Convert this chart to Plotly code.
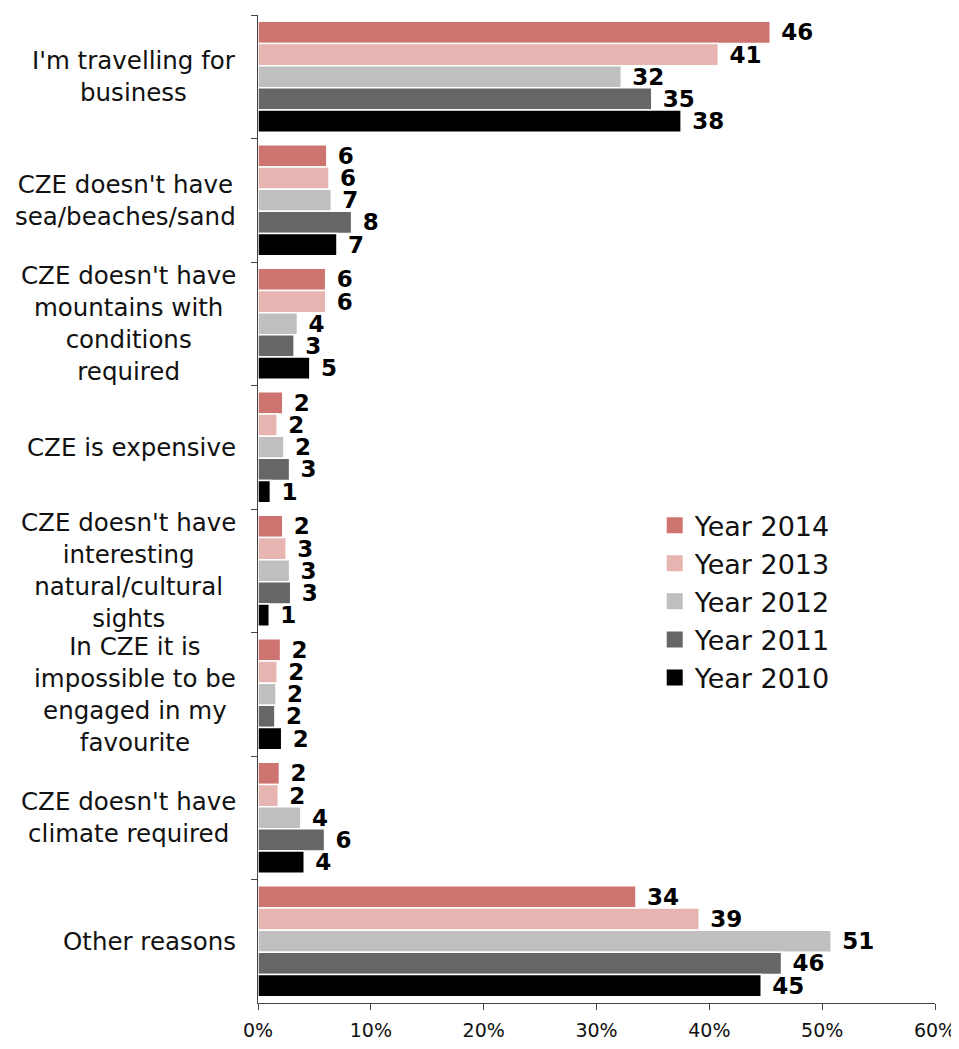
import plotly.graph_objects as go

categories = [
    "I'm travelling for<br>business",
    "CZE doesn't have<br>sea/beaches/sand",
    "CZE doesn't have<br>mountains with<br>conditions<br>required",
    "CZE is expensive",
    "CZE doesn't have<br>interesting<br>natural/cultural<br>sights",
    "In CZE it is<br>impossible to be<br>engaged in my<br>favourite",
    "CZE doesn't have<br>climate required",
    "Other reasons",
]

years = ["Year 2014", "Year 2013", "Year 2012", "Year 2011", "Year 2010"]

v2014 = [45.4, 6.1, 6.0, 2.2, 2.2, 2.0, 1.9, 33.5]
v2013 = [40.8, 6.3, 6.0, 1.7, 2.5, 1.7, 1.8, 39.1]
v2012 = [32.2, 6.5, 3.5, 2.3, 2.8, 1.6, 3.8, 50.8]
v2011 = [34.9, 8.3, 3.2, 2.8, 2.9, 1.5, 5.9, 46.4]
v2010 = [37.5, 7.0, 4.6, 1.1, 1.0, 2.1, 4.1, 44.6]

l2014 = ["46", "6", "6", "2", "2", "2", "2", "34"]
l2013 = ["41", "6", "6", "2", "3", "2", "2", "39"]
l2012 = ["32", "7", "4", "2", "3", "2", "4", "51"]
l2011 = ["35", "8", "3", "3", "3", "2", "6", "46"]
l2010 = ["38", "7", "5", "1", "1", "2", "4", "45"]

x_ticks = [0, 10, 20, 30, 40, 50, 60]
x_tick_text = ["0%", "10%", "20%", "30%", "40%", "50%", "60%"]

colors = ["#CD7370", "#E6B5B1", "#BFBFBF", "#666666", "#000000"]

series = [v2014, v2013, v2012, v2011, v2010]
labels = [l2014, l2013, l2012, l2011, l2010]

fig = go.Figure()
for name, vals, labs, col in zip(years, series, labels, colors):
    fig.add_trace(go.Bar(
        y=categories, x=vals, orientation="h", name=name, showlegend=False,
        marker=dict(color=col, line=dict(color="white", width=1.5)),
        text=labs, texttemplate=" %{text}", textposition="outside",
        cliponaxis=False, constraintext="none",
        textfont=dict(family="DejaVu Sans", size=23, color="black", weight="bold"),
    ))

# legend entries with square swatches
for name, col in zip(years, colors):
    fig.add_trace(go.Scatter(
        x=[None], y=[None], mode="markers", name=name,
        marker=dict(symbol="square", size=18, color=col),
    ))

for cat in categories:
    fig.add_annotation(
        x=0, xref="paper", y=cat, yref="y", text=cat, showarrow=False,
        xanchor="right", xshift=-20, align="center",
        font=dict(family="DejaVu Sans", size=24.5, color="#111111"),
    )

fig.update_layout(
    width=951, height=1040,
    margin=dict(l=250, r=24, t=7, b=45, autoexpand=False),
    paper_bgcolor="white", plot_bgcolor="white",
    barmode="group", bargap=0.1, bargroupgap=0,
    font=dict(family="DejaVu Sans", color="#111111"),
    showlegend=True,
    legend=dict(
        x=0.586, y=0.508, xanchor="left", yanchor="top",
        font=dict(family="DejaVu Sans", size=27, color="#111111"),
        traceorder="normal", itemwidth=30, tracegroupgap=0,
        bgcolor="rgba(0,0,0,0)",
    ),
)

fig.update_xaxes(
    range=[0, 60], tickvals=x_ticks, ticktext=x_tick_text,
    showgrid=False, zeroline=False, showline=True, linecolor="#444444", linewidth=1,
    ticks="outside", ticklen=6, tickcolor="#444444", automargin=False,
    ticklabelstandoff=4,
    tickfont=dict(family="DejaVu Sans", size=19, color="#111111"),
)
fig.update_yaxes(
    autorange="reversed", showticklabels=False, showgrid=False, automargin=False,
    showline=True, linecolor="#444444", linewidth=1,
    ticks="outside", ticklen=6, tickcolor="#444444", tickson="boundaries",
)

fig.write_html("out.html")
